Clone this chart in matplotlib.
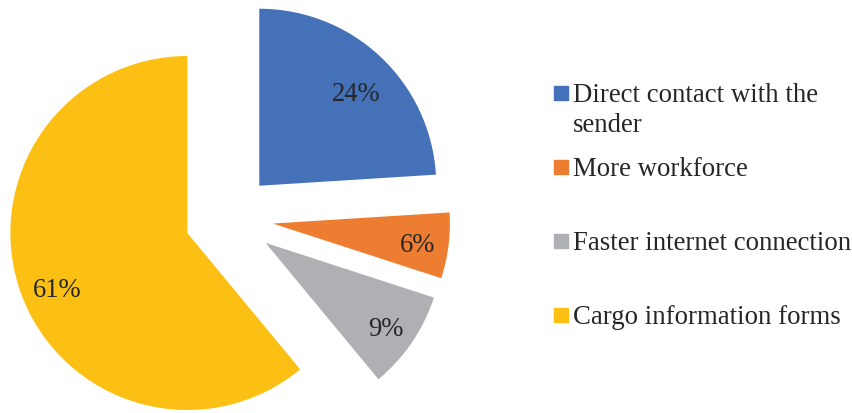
import numpy as np
import matplotlib.pyplot as plt
from matplotlib.patches import Rectangle

labels = ["Direct contact with the\nsender", "More workforce",
          "Faster internet connection", "Cargo information forms"]
shares = [24, 6, 9, 61]
colors = ["#4571B8", "#ED7D31", "#AFB0B3", "#FBC013"]

# where each percentage sits inside its wedge: radius fraction and a small turn (deg)
pct_dist = [0.763, 0.824, 0.826, 0.797]
pct_turn = [-2.8, -0.6, -0.7, 3.3]

plt.rcParams["font.family"] = ["Liberation Serif", "DejaVu Serif"]
W, H = 853, 413
fig = plt.figure(figsize=(W / 100, H / 100), dpi=100)

# pie axes: 177 px per unit radius, centre at (229, 218) px from top-left
r_px = 177.0
cx, cy = 229.0, H - 218.0
ax = fig.add_axes([0, 0, 458 / W, 1])
wedges, texts, autotexts = ax.pie(
    shares, colors=colors, startangle=90, counterclock=False,
    explode=[0.25] * 4, autopct="%d%%", pctdistance=0.8,
    textprops=dict(fontsize=19.2, color="#262626"))
ax.set_xlim(-cx / r_px, (458 - cx) / r_px)
ax.set_ylim(-cy / r_px, (H - cy) / r_px)
ax.set_aspect("auto")

# text box centre sits a little above the glyphs, so drop it ~2.5 px
drop = 2.5 / r_px
for w, t, d, turn in zip(wedges, autotexts, pct_dist, pct_turn):
    mid = np.deg2rad((w.theta1 + w.theta2) / 2 + turn)
    x0, y0 = w.center
    t.set_position((x0 + d * np.cos(mid), y0 + d * np.sin(mid) - drop))

# legend drawn by hand so the first swatch sits on the first line
baselines = [102, 176, 250, 324]
line_gap = 30
for lab, col, y in zip(labels, colors, baselines):
    fig.patches.append(Rectangle((554 / W, (H - y + 2) / H), 14 / W, 14 / H,
                                 transform=fig.transFigure, color=col))
    for i, line in enumerate(lab.split("\n")):
        fig.text(573 / W, (H - y - i * line_gap) / H, line, fontsize=19.3,
                 color="#262626", va="baseline", ha="left")

fig.savefig("out.png", dpi=100)
